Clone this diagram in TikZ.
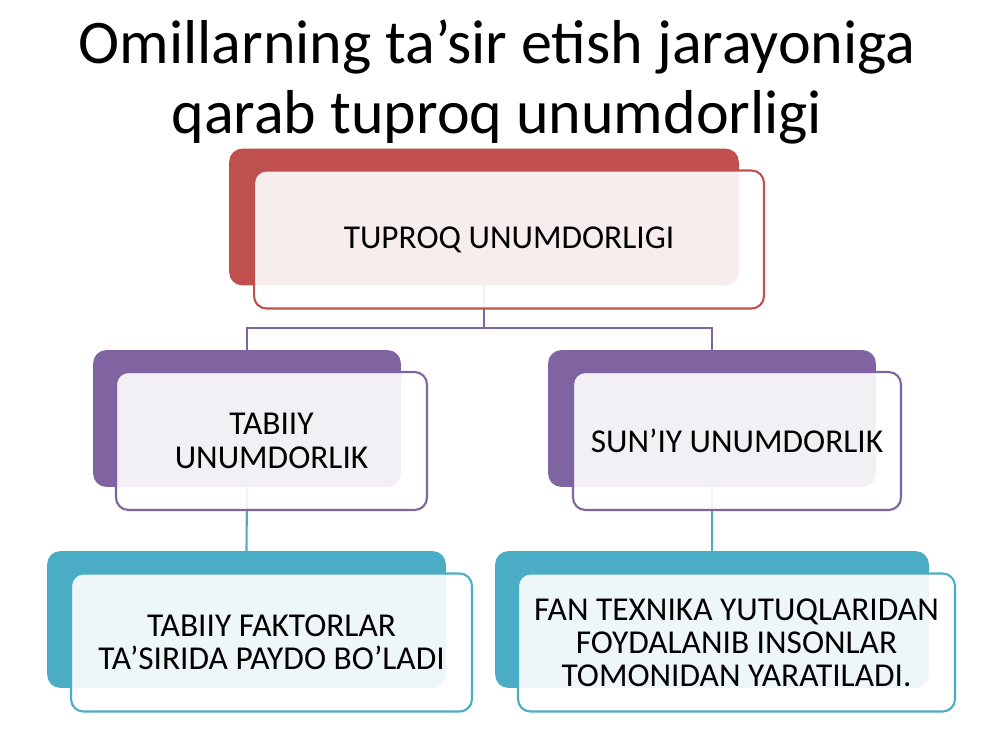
\documentclass[tikz,border=0pt]{standalone}
\usepackage{fontspec}
\setmainfont{Carlito}
\usetikzlibrary{calc}

\definecolor{tred}{HTML}{C0504D}
\definecolor{tpurple}{HTML}{8064A2}
\definecolor{tteal}{HTML}{4BACC6}

\begin{document}
\begin{tikzpicture}[x=0.02cm,y=-0.02cm]
		\tikzstyle{back}=[rectangle,rounded corners=7pt,minimum height=2.7cm,
							inner sep=0pt,line width=1pt]
		\tikzstyle{front}=[rectangle,rounded corners=7pt,draw,fill=white,
							fill opacity=0.9,text opacity=1,line width=1.2pt,
							minimum height=2.76cm,align=center,
							font=\fontsize{19pt}{18.9pt}\selectfont]
		\tikzstyle{link}=[line width=1.2pt]

		\useasboundingbox (0,0) rectangle (1000,750);

		% title
		\node[align=center,font=\fontsize{35.3pt}{39.7pt}\selectfont] (title) at (497,82)
			{Omillarning ta’sir etish jarayoniga\\qarab tuproq unumdorligi};

		% back boxes
		\foreach \name/\x/\y/\w/\col in {tuproq/484/217/10.16/tred,
				tabiiy/247/418.5/6.12/tpurple, suniy/712/418.5/6.52/tpurple,
				faktor/246.5/619.5/7.94/tteal, fan/712/619.5/8.64/tteal}
			\node[back,fill=\col,draw=\col,minimum width=\w cm] (\name B) at (\x,\y) {};

		% links
		\coordinate (split) at (484,328);
		\draw[link,tpurple] (tuproqB.south) -- (split);
		\draw[link,tpurple] (tabiiyB.north) |- (split) -| (suniyB.north);
		\draw[link,tteal] (tabiiyB.south) -- (faktorB.north);
		\draw[link,tteal] (suniyB.south) -- (fanB.north);

		% front boxes
		\node[front,draw=tred,minimum width=10.2cm] (tuproq) at ($(tuproqB)+(25,22.5)$)
			{TUPROQ UNUMDORLIGI};
		\node[front,draw=tpurple,minimum width=6.22cm] (tabiiy) at ($(tabiiyB)+(24.5,22.5)$)
			{TABIIY\\UNUMDORLIK};
		\node[front,draw=tpurple,minimum width=6.56cm] (suniy) at ($(suniyB)+(25,22.5)$)
			{SUN’IY UNUMDORLIK};
		\node[front,draw=tteal,minimum width=8.02cm] (faktor) at ($(faktorB)+(25,23)$)
			{TABIIY FAKTORLAR\\TA’SIRIDA PAYDO BO’LADI};
		\node[front,draw=tteal,minimum width=8.74cm] (fan) at ($(fanB)+(24.5,23)$)
			{FAN TEXNIKA YUTUQLARIDAN\\FOYDALANIB INSONLAR\\TOMONIDAN YARATILADI.};

	\end{tikzpicture}
\end{document}
